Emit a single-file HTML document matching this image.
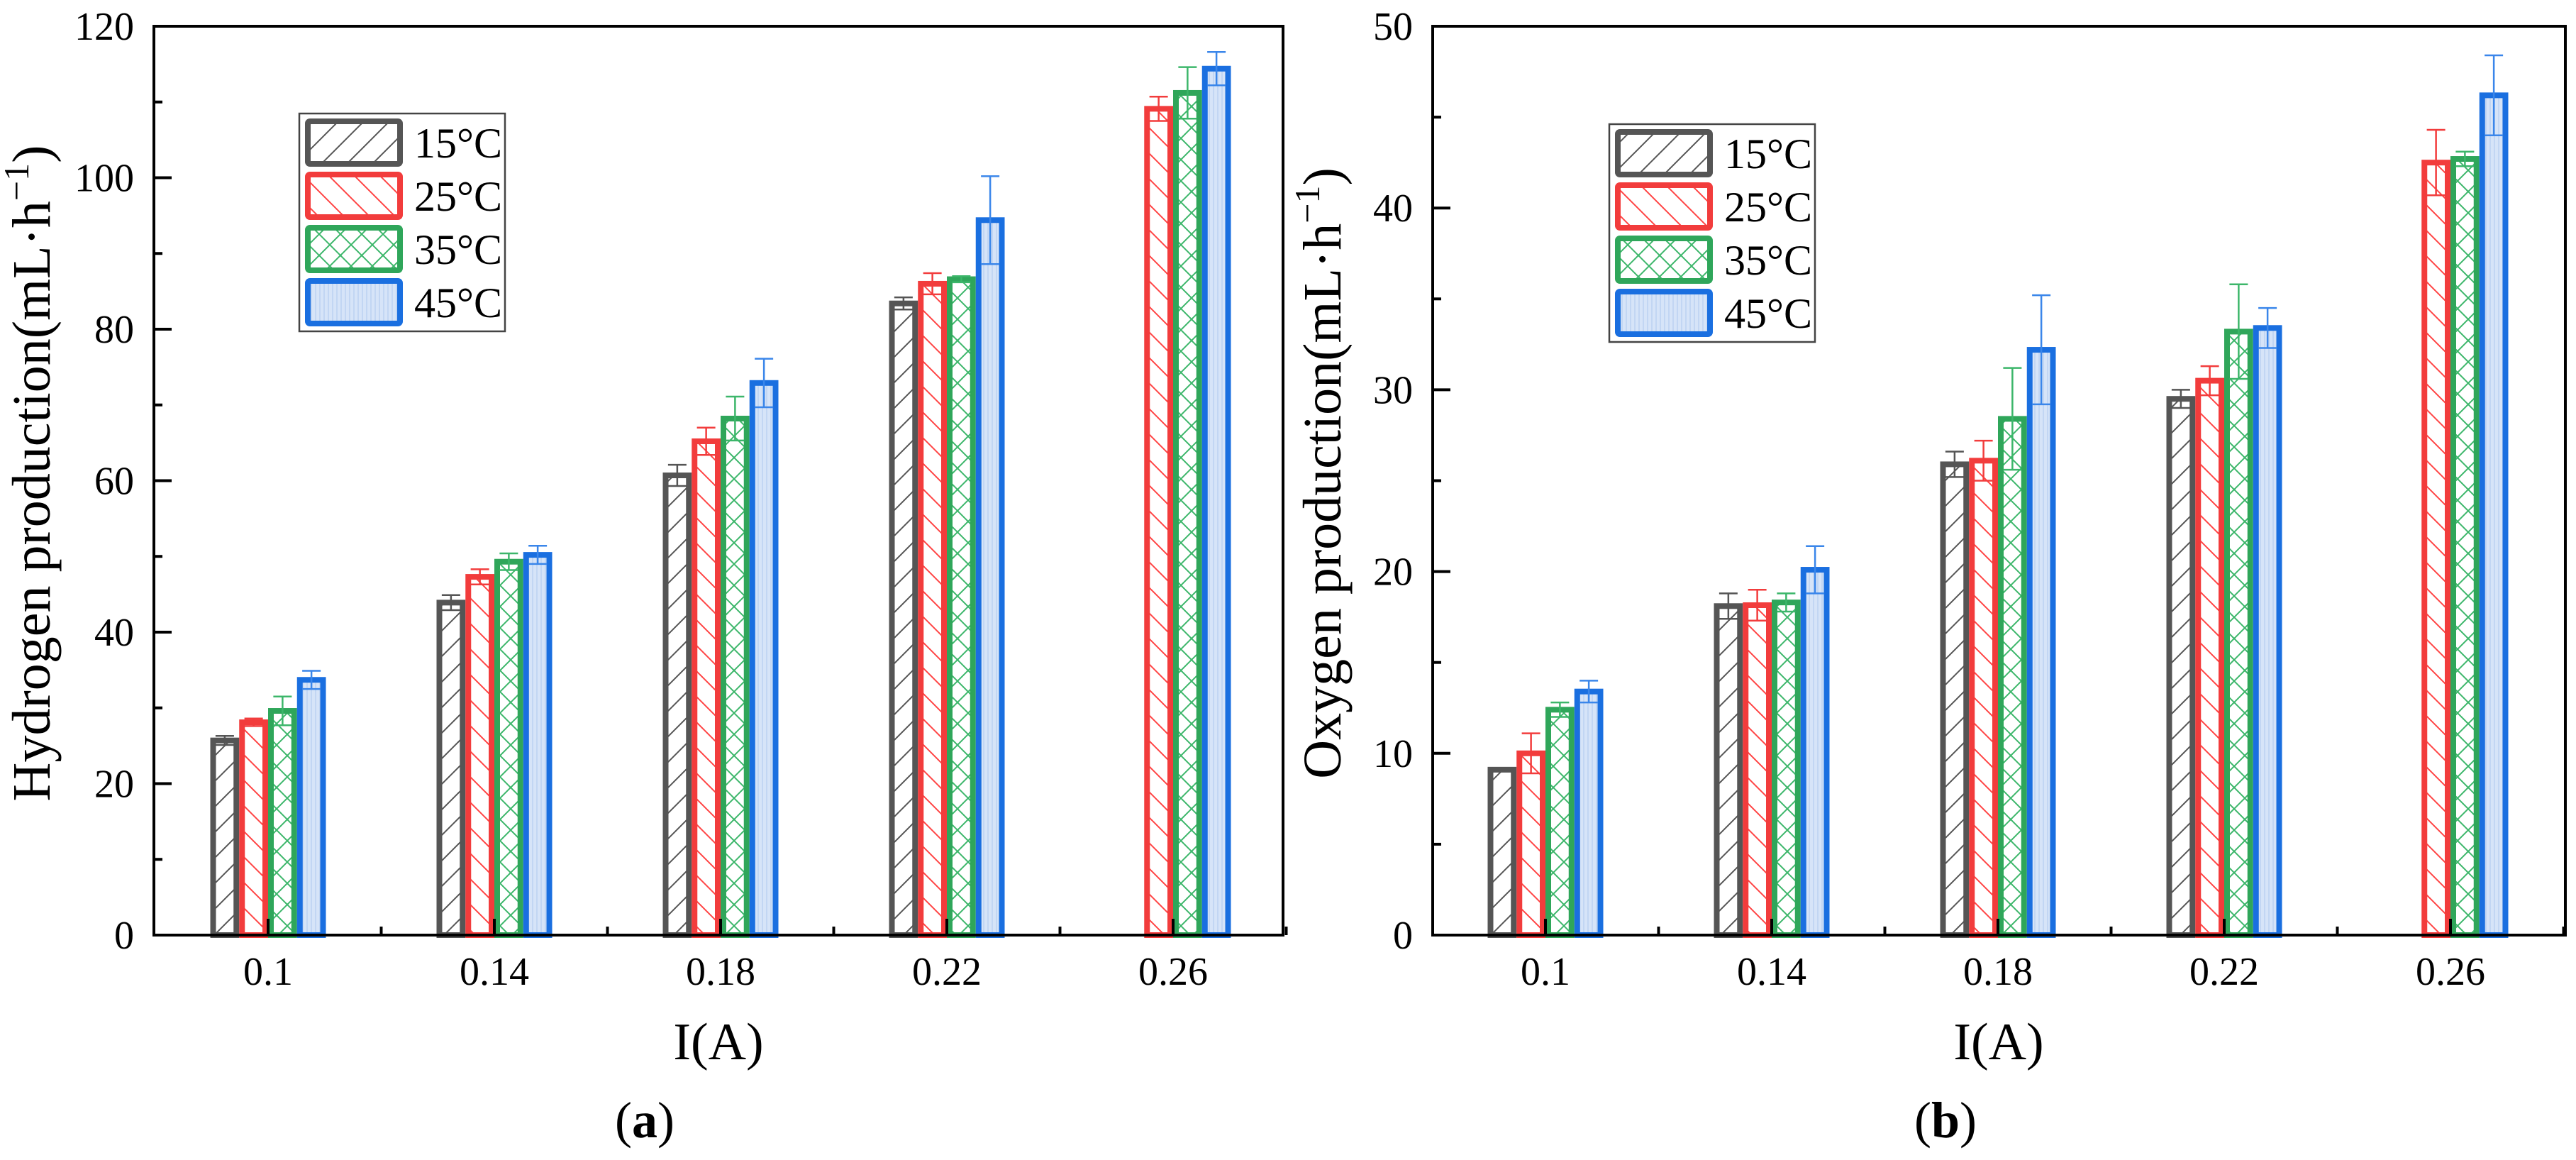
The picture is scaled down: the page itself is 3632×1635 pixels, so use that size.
<!DOCTYPE html>
<html><head><meta charset="utf-8"><style>
html,body{margin:0;padding:0;background:#fff}
svg{display:block}
text{font-family:"Liberation Serif",serif;fill:#000}
</style></head><body>
<svg id="root" width="3632" height="1635" viewBox="0 0 3632 1635" xmlns="http://www.w3.org/2000/svg">
<defs>
<pattern id="pGray" patternUnits="userSpaceOnUse" width="36" height="36" patternTransform="rotate(0)"><path d="M-9,45 L45,-9 M-27,27 L27,-27 M9,63 L63,9" stroke="#555" stroke-width="2"/></pattern>
<pattern id="pRed" patternUnits="userSpaceOnUse" width="36" height="36"><path d="M-9,-9 L45,45 M-27,9 L27,63 M9,-27 L63,27" stroke="#f44" stroke-width="2"/></pattern>
<pattern id="pGreen" patternUnits="userSpaceOnUse" width="30" height="30"><path d="M0,0 L30,30 M30,0 L0,30" stroke="#3cb66a" stroke-width="2"/></pattern>
<pattern id="pBlue" patternUnits="userSpaceOnUse" width="6" height="6"><rect width="6" height="6" fill="#d6e4f8"/><rect width="2" height="6" fill="#c2d6f3"/></pattern>
</defs>
</svg>
<script>
const categories = ["0.1","0.14","0.18","0.22","0.26"];
const seriesNames = ["15°C","25°C","35°C","45°C"];
const h2_15 = [25.7, 43.9, 60.7, 83.4, null];
const h2_25 = [28.1, 47.3, 65.2, 86.0, 109.1];
const h2_35 = [29.6, 49.3, 68.2, 86.6, 111.2];
const h2_45 = [33.7, 50.2, 72.9, 94.4, 114.4];
const h2e_15 = [0.6, 1.0, 1.4, 0.8, 0];
const h2e_25 = [0.5, 1.0, 1.8, 1.4, 1.6];
const h2e_35 = [1.9, 1.1, 2.9, 0.4, 3.4];
const h2e_45 = [1.2, 1.2, 3.2, 5.8, 2.2];
const o2_15 = [9.1, 18.1, 25.9, 29.5, null];
const o2_25 = [10.0, 18.15, 26.1, 30.5, 42.5];
const o2_35 = [12.4, 18.3, 28.4, 33.2, 42.7];
const o2_45 = [13.4, 20.1, 32.2, 33.4, 46.2];
const o2e_15 = [0.1, 0.7, 0.7, 0.5, 0];
const o2e_25 = [1.1, 0.85, 1.1, 0.8, 1.8];
const o2e_35 = [0.4, 0.5, 2.8, 2.6, 0.4];
const o2e_45 = [0.6, 1.3, 3.0, 1.1, 2.2];
const h2Ticks = [0,20,40,60,80,100,120];
const o2Ticks = [0,10,20,30,40,50];

const NS="http://www.w3.org/2000/svg";
const root=document.getElementById('root');
const colors=["#555555","#f23c3c","#2fa65a","#1a6fe0"];
const errColors=["#555555","#f23c3c","#3cb66a","#3a86ea"];
const fills=["url(#pGray)","url(#pRed)","url(#pGreen)","url(#pBlue)"];
function mk(tag,attrs,parent){const e=document.createElementNS(NS,tag);for(const k in attrs)e.setAttribute(k,attrs[k]);(parent||root).appendChild(e);return e;}

function panel(cfg){
  const g=mk('g',{});
  
  
  const L=cfg.left,R=cfg.right,T=37,B=1318;
  const ymax=cfg.ticks[cfg.ticks.length-1];
  const ys=v=>B-(v/ymax)*(B-T);
  const step=319;
  const xc=i=>cfg.x0+i*step;
  const bw=40.75;
  // bars
  cfg.series.forEach((s,si)=>{
    s.forEach((v,i)=>{
      if(v==null) return;
      const x=xc(i)-2*bw+si*bw;
      const r=mk('rect',{x:x+4,y:ys(v),width:bw-8,height:B-ys(v),fill:fills[si],stroke:colors[si],'stroke-width':8},g);
      
      
    });
  });
  // error bars
  cfg.series.forEach((s,si)=>{
    s.forEach((v,i)=>{
      if(v==null) return;
      const e=cfg.errs[si][i];
      if(!e) return;
      const cx=xc(i)-2*bw+si*bw+bw/2;
      const eg=mk('g',{stroke:errColors[si],'stroke-width':2.5},g);
      
      
      mk('line',{x1:cx,x2:cx,y1:ys(v+e),y2:ys(v-e)},eg);
      mk('line',{x1:cx-13,x2:cx+13,y1:ys(v+e),y2:ys(v+e)},eg);
      mk('line',{x1:cx-13,x2:cx+13,y1:ys(v-e),y2:ys(v-e)},eg);
    });
  });
  // frame
  const fr=mk('rect',{x:L,y:T,width:R-L,height:B-T,fill:'none',stroke:'#000','stroke-width':4},g);
  
  
  // y ticks
  const half=cfg.ticks[1]/2;
  for(let v=0;v<=ymax;v+=half){
    const major=Math.abs((v/cfg.ticks[1])-Math.round(v/cfg.ticks[1]))<1e-6;
    mk('line',{x1:L,x2:L+(major?25:12),y1:ys(v),y2:ys(v),stroke:'#000','stroke-width':4},g);
  }
  cfg.ticks.forEach(v=>{
    const t=mk('text',{x:L-28,y:ys(v)+19,'text-anchor':'end','font-size':56},g);
    t.textContent=v;
    
    
  });
  // x ticks
  categories.forEach((c,i)=>{
    mk('line',{x1:xc(i),x2:xc(i),y1:B,y2:B-23,stroke:'#000','stroke-width':4},g);
    if(i<categories.length) mk('line',{x1:xc(i)+step/2,x2:xc(i)+step/2,y1:B,y2:B-12,stroke:'#000','stroke-width':4},g);
    const t=mk('text',{x:xc(i),y:1388,'text-anchor':'middle','font-size':56},g);
    t.textContent=c;
    
    
  });
  // legend
  const lg=mk('g',{},g);
  
  
  mk('rect',{x:cfg.lx,y:cfg.ly,width:290,height:307,fill:'#fff',stroke:'#444','stroke-width':2.5},lg);
  seriesNames.forEach((n,si)=>{
    const y=cfg.ly+7+si*75;
    const e=mk('g',{},lg);
    
    
    mk('rect',{x:cfg.lx+12,y:y+4,width:130,height:60,rx:3,fill:fills[si],stroke:colors[si],'stroke-width':8},e);
    const t=mk('text',{x:cfg.lx+162,y:y+55,'font-size':60},e);
    t.textContent=n;
  });
  // axis titles
  const xt=mk('text',{x:cfg.xtx,y:1493,'text-anchor':'middle','font-size':74},g);
  xt.textContent='I(A)';
  
  
  const yt=mk('text',{x:0,y:0,'text-anchor':'middle','font-size':76,transform:`translate(${cfg.ytx},667) rotate(-90)`},g);
  yt.innerHTML=cfg.ytitle+'(mL·h<tspan font-size="50" dy="-30">−1</tspan><tspan dy="30">)</tspan>';
  
  
  const pl=mk('text',{x:cfg.plx,y:1603,'text-anchor':'middle','font-size':72},g);
  pl.innerHTML='(<tspan font-weight="bold">'+cfg.short+'</tspan>)';
  
  
}
panel({name:'hydrogen-chart',short:'a',left:217,right:1809,x0:378,ticks:h2Ticks,
  series:[h2_15,h2_25,h2_35,h2_45],errs:[h2e_15,h2e_25,h2e_35,h2e_45],
  lx:422,ly:160,xtx:1013,ytx:70,ytitle:'Hydrogen production',plx:909});
panel({name:'oxygen-chart',short:'b',left:2020,right:3617,x0:2179,ticks:o2Ticks,
  series:[o2_15,o2_25,o2_35,o2_45],errs:[o2e_15,o2e_25,o2e_35,o2e_45],
  lx:2269,ly:175,xtx:2818,ytx:1890,ytitle:'Oxygen production',plx:2743});
</script>
</body></html>
